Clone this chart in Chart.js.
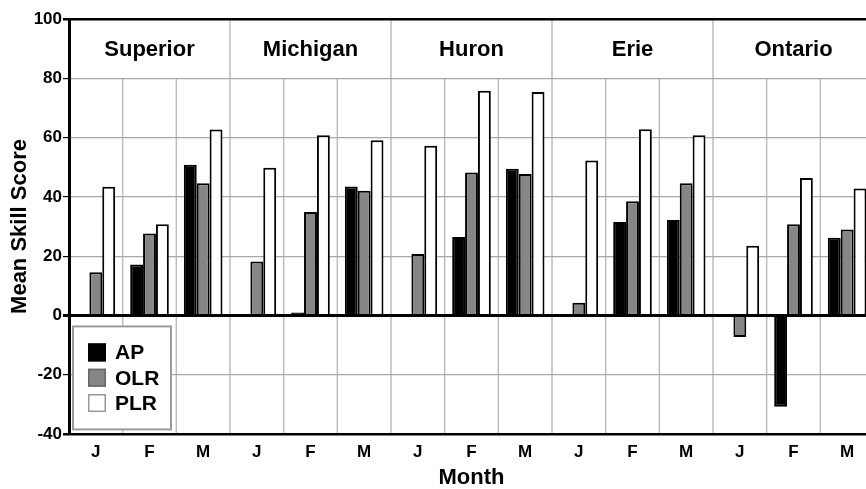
<!DOCTYPE html>
<html>
<head>
<meta charset="utf-8">
<script src="https://cdn.jsdelivr.net/npm/chart.js@4.4.0/dist/chart.umd.min.js"></script>
<style>
  html, body { margin: 0; padding: 0; background: #fff; overflow: hidden; }
  #wrap { position: absolute; left: 0; top: 0; width: 880px; height: 489px; }
</style>
</head>
<body>
<div id="wrap"><canvas id="myChart" width="880" height="489"></canvas></div>
<script>
const lakes = ['Superior', 'Michigan', 'Huron', 'Erie', 'Ontario'];
const months = ['J', 'F', 'M'];
const apValues  = [null, 17.2, 50.8, null, 1.0, 43.5, null, 26.5, 49.5, null, 31.5, 32.2, null, -30.8, 26.2];
const olrValues = [14.6, 27.6, 44.6, 18.2, 34.9, 42.1, 20.7, 48.2, 47.7, 4.3, 38.5, 44.6, -7.3, 30.8, 29.0];
const plrValues = [43.4, 30.8, 62.7, 49.8, 60.8, 59.1, 57.2, 75.8, 75.4, 52.3, 62.8, 60.8, 23.5, 46.4, 42.8];
const yTicks = [-40, -20, 0, 20, 40, 60, 80, 100];

const FONT = '"Liberation Sans", Arial, sans-serif';
const labels = lakes.flatMap(() => months);

// vertical grid (month lines stop under the lake header band) + lake names
const lakeGrid = {
  id: 'lakeGrid',
  beforeDraw(chart) {
    const { ctx, chartArea: a, scales: { x, y } } = chart;
    const band = y.getPixelForValue(80);
    ctx.save();
    ctx.strokeStyle = '#bdbdbd';
    ctx.lineWidth = 1.5;
    for (let i = 1; i < labels.length; i++) {
      const px = (x.getPixelForValue(i - 1) + x.getPixelForValue(i)) / 2;
      const lakeEdge = i % months.length === 0;
      ctx.beginPath();
      ctx.moveTo(px, lakeEdge ? a.top : band);
      ctx.lineTo(px, a.bottom);
      ctx.stroke();
    }
    ctx.fillStyle = '#000';
    ctx.font = 'bold 22px ' + FONT;
    ctx.textAlign = 'center';
    ctx.textBaseline = 'middle';
    lakes.forEach((lake, k) => {
      const cx = x.getPixelForValue(k * months.length + 1);
      ctx.fillText(lake, cx, (a.top + band) / 2 + 1);
    });
    ctx.restore();
  },
  afterDatasetsDraw(chart) {
    const { ctx, chartArea: a, scales: { y } } = chart;
    const bx = a.left + 4, by = y.getPixelForValue(0) + 11;
    ctx.save();
    ctx.fillStyle = '#fff';
    ctx.fillRect(bx, by, 98, 103);
    ctx.strokeStyle = '#9a9a9a';
    ctx.lineWidth = 2;
    ctx.strokeRect(bx, by, 98, 103);
    const items = [
      { text: 'AP', fill: '#000', stroke: '#000' },
      { text: 'OLR', fill: '#868686', stroke: '#666' },
      { text: 'PLR', fill: '#fff', stroke: '#999' }
    ];
    ctx.font = 'bold 21px ' + FONT;
    ctx.textBaseline = 'middle';
    ctx.textAlign = 'left';
    items.forEach((it, i) => {
      const sy = by + 17 + i * 25.3;
      ctx.fillStyle = it.fill;
      ctx.fillRect(bx + 15, sy, 18, 18);
      ctx.strokeStyle = it.stroke;
      ctx.lineWidth = 1.5;
      ctx.strokeRect(bx + 15.75, sy + 0.75, 16.5, 16.5);
      ctx.fillStyle = '#000';
      ctx.fillText(it.text, bx + 42, sy + 10);
    });
    ctx.restore();
  }
};

const data = {
  labels: labels,
  datasets: [{
    label: 'AP',
    data: apValues,
    backgroundColor: '#000',
    borderColor: '#000',
    borderWidth: 2
  }, {
    label: 'OLR',
    data: olrValues,
    backgroundColor: '#868686',
    borderColor: '#000',
    borderWidth: 2
  }, {
    label: 'PLR',
    data: plrValues,
    backgroundColor: '#fff',
    borderColor: '#000',
    borderWidth: 2
  }]
};

const config = {
  type: 'bar',
  data,
  options: {
    responsive: false,
    animation: false,
    categoryPercentage: 0.72,
    barPercentage: 1.0,
    layout: { padding: { left: 0, top: 19, right: 6, bottom: 0 } },
    plugins: {
      legend: { display: false },
      tooltip: { enabled: false }
    },
    scales: {
      x: {
        afterFit: s => { s.height = 55; },
        grid: { display: false, drawTicks: false },
        border: { display: false },
        ticks: {
          color: '#000',
          font: { family: FONT, size: 17, weight: 'bold' },
          padding: 8,
          maxRotation: 0,
          autoSkip: false
        },
        title: {
          display: true,
          text: 'Month',
          color: '#000',
          font: { family: FONT, size: 22, weight: 'bold', lineHeight: 1 },
          padding: { top: 0, bottom: 0 }
        }
      },
      y: {
        min: -40,
        max: 100,
        afterBuildTicks: s => { s.ticks = yTicks.map(v => ({ value: v })); },
        afterFit: s => { s.width = 69; },
        ticks: {
          color: '#000',
          font: { family: FONT, size: 17, weight: 'bold' },
          padding: 1
        },
        grid: {
          color: c => (c.tick && [0, 100, -40].includes(c.tick.value)) ? '#000' : '#a8a8a8',
          lineWidth: c => !c.tick ? 1 : c.tick.value === 0 ? 3 : (c.tick.value === 100 || c.tick.value === -40) ? 2.5 : 1.2,
          tickColor: '#000',
          tickLength: 6
        },
        border: { color: '#000', width: 3 },
        title: {
          display: true,
          text: 'Mean Skill Score',
          color: '#000',
          font: { family: FONT, size: 22, weight: 'bold', lineHeight: 1 },
          padding: { top: 9, bottom: 0 }
        }
      }
    }
  },
  plugins: [lakeGrid]
};

const myChart = new Chart(document.getElementById('myChart'), config);
</script>
</body>
</html>
